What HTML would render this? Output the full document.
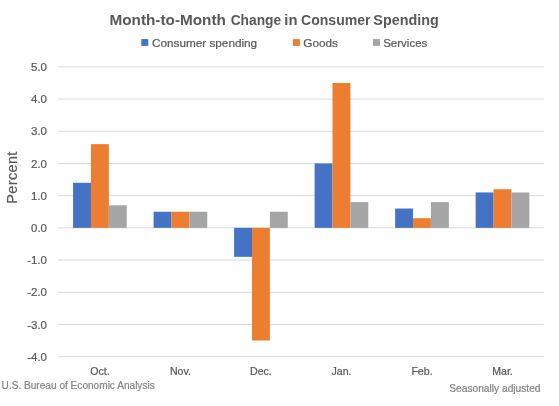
<!DOCTYPE html>
<html><head><meta charset="utf-8"><style>
html,body{margin:0;padding:0;background:#fff;width:559px;height:406px;overflow:hidden}
svg{position:absolute;left:0;top:0;will-change:transform}
text{font-family:"Liberation Sans",sans-serif;stroke-width:0.22px;paint-order:stroke}
.ax,.xl,.lg,.pc{stroke:#595959}
.ft,.ftr{stroke:#858585}
.ax{font-size:11.5px;fill:#595959}
.xl{font-size:10.6px;fill:#595959}
.ttl{font-size:14.45px;font-weight:bold;fill:#595959}
.lg{font-size:11.75px;fill:#595959}
.ft{font-size:10.1px;fill:#858585}
.ftr{font-size:10.2px;fill:#858585}
.pc{font-size:14.5px;fill:#595959;letter-spacing:0.35px}
</style></head><body>
<svg width="559" height="406" viewBox="0 0 559 406">
<text x="109.44" y="25.25" class="ttl" textLength="116.5" lengthAdjust="spacingAndGlyphs">Month-to-Month</text>
<text x="230.65" y="25.25" class="ttl" textLength="50.5" lengthAdjust="spacingAndGlyphs">Change</text>
<text x="284.37" y="25.25" class="ttl" textLength="13.19" lengthAdjust="spacingAndGlyphs">in</text>
<text x="301.03" y="25.25" class="ttl" textLength="69.47" lengthAdjust="spacingAndGlyphs">Consumer</text>
<text x="373.3" y="25.25" class="ttl" textLength="65.45" lengthAdjust="spacingAndGlyphs">Spending</text>
<rect x="141.3" y="39.1" width="7" height="6.8" fill="#4472C4"/>
<text x="152" y="46.8" class="lg">Consumer spending</text>
<rect x="292.9" y="39.1" width="7" height="6.8" fill="#ED7D31"/>
<text x="303.3" y="46.8" class="lg">Goods</text>
<rect x="373" y="39.1" width="7" height="6.8" fill="#A5A5A5"/>
<text x="383.2" y="46.8" class="lg" style="font-size:11.5px">Services</text>
<rect x="58.14" y="66.40" width="485.82" height="1" fill="#D9D9D9"/>
<text x="47" y="71.10" text-anchor="end" class="ax">5.0</text>
<rect x="58.14" y="98.59" width="485.82" height="1" fill="#D9D9D9"/>
<text x="47" y="103.29" text-anchor="end" class="ax">4.0</text>
<rect x="58.14" y="130.78" width="485.82" height="1" fill="#D9D9D9"/>
<text x="47" y="135.48" text-anchor="end" class="ax">3.0</text>
<rect x="58.14" y="162.97" width="485.82" height="1" fill="#D9D9D9"/>
<text x="47" y="167.67" text-anchor="end" class="ax">2.0</text>
<rect x="58.14" y="195.16" width="485.82" height="1" fill="#D9D9D9"/>
<text x="47" y="199.86" text-anchor="end" class="ax">1.0</text>
<rect x="58.14" y="227.35" width="485.82" height="1" fill="#D9D9D9"/>
<text x="47" y="232.05" text-anchor="end" class="ax">0.0</text>
<rect x="58.14" y="259.54" width="485.82" height="1" fill="#D9D9D9"/>
<text x="47" y="264.24" text-anchor="end" class="ax">-1.0</text>
<rect x="58.14" y="291.73" width="485.82" height="1" fill="#D9D9D9"/>
<text x="47" y="296.43" text-anchor="end" class="ax">-2.0</text>
<rect x="58.14" y="323.92" width="485.82" height="1" fill="#D9D9D9"/>
<text x="47" y="328.62" text-anchor="end" class="ax">-3.0</text>
<rect x="58.14" y="356.11" width="485.82" height="1" fill="#D9D9D9"/>
<text x="47" y="360.81" text-anchor="end" class="ax">-4.0</text>
<rect x="73.06" y="182.78" width="17.89" height="45.07" fill="#4472C4"/>
<rect x="90.95" y="144.16" width="17.89" height="83.69" fill="#ED7D31"/>
<rect x="108.85" y="205.32" width="17.89" height="22.53" fill="#A5A5A5"/>
<text x="99.90" y="375.2" text-anchor="middle" class="xl">Oct.</text>
<rect x="153.58" y="211.75" width="17.89" height="16.09" fill="#4472C4"/>
<rect x="171.47" y="211.75" width="17.89" height="16.09" fill="#ED7D31"/>
<rect x="189.37" y="211.75" width="17.89" height="16.09" fill="#A5A5A5"/>
<text x="180.42" y="375.2" text-anchor="middle" class="xl">Nov.</text>
<rect x="234.10" y="227.85" width="17.89" height="28.97" fill="#4472C4"/>
<rect x="251.99" y="227.85" width="17.89" height="112.66" fill="#ED7D31"/>
<rect x="269.89" y="211.75" width="17.89" height="16.09" fill="#A5A5A5"/>
<text x="260.94" y="375.2" text-anchor="middle" class="xl">Dec.</text>
<rect x="314.62" y="163.47" width="17.89" height="64.38" fill="#4472C4"/>
<rect x="332.51" y="83.00" width="17.89" height="144.85" fill="#ED7D31"/>
<rect x="350.41" y="202.10" width="17.89" height="25.75" fill="#A5A5A5"/>
<text x="341.46" y="375.2" text-anchor="middle" class="xl">Jan.</text>
<rect x="395.14" y="208.54" width="17.89" height="19.31" fill="#4472C4"/>
<rect x="413.03" y="218.19" width="17.89" height="9.66" fill="#ED7D31"/>
<rect x="430.93" y="202.10" width="17.89" height="25.75" fill="#A5A5A5"/>
<text x="421.98" y="375.2" text-anchor="middle" class="xl">Feb.</text>
<rect x="475.66" y="192.44" width="17.89" height="35.41" fill="#4472C4"/>
<rect x="493.55" y="189.22" width="17.89" height="38.63" fill="#ED7D31"/>
<rect x="511.45" y="192.44" width="17.89" height="35.41" fill="#A5A5A5"/>
<text x="502.50" y="375.2" text-anchor="middle" class="xl">Mar.</text>
<text transform="translate(17.3,177.5) rotate(-90)" text-anchor="middle" class="pc">Percent</text>
<text x="1.6" y="388.7" class="ft">U.S. Bureau of Economic Analysis</text>
<text x="540.5" y="391.5" text-anchor="end" class="ftr">Seasonally adjusted</text>
</svg>
</body></html>
